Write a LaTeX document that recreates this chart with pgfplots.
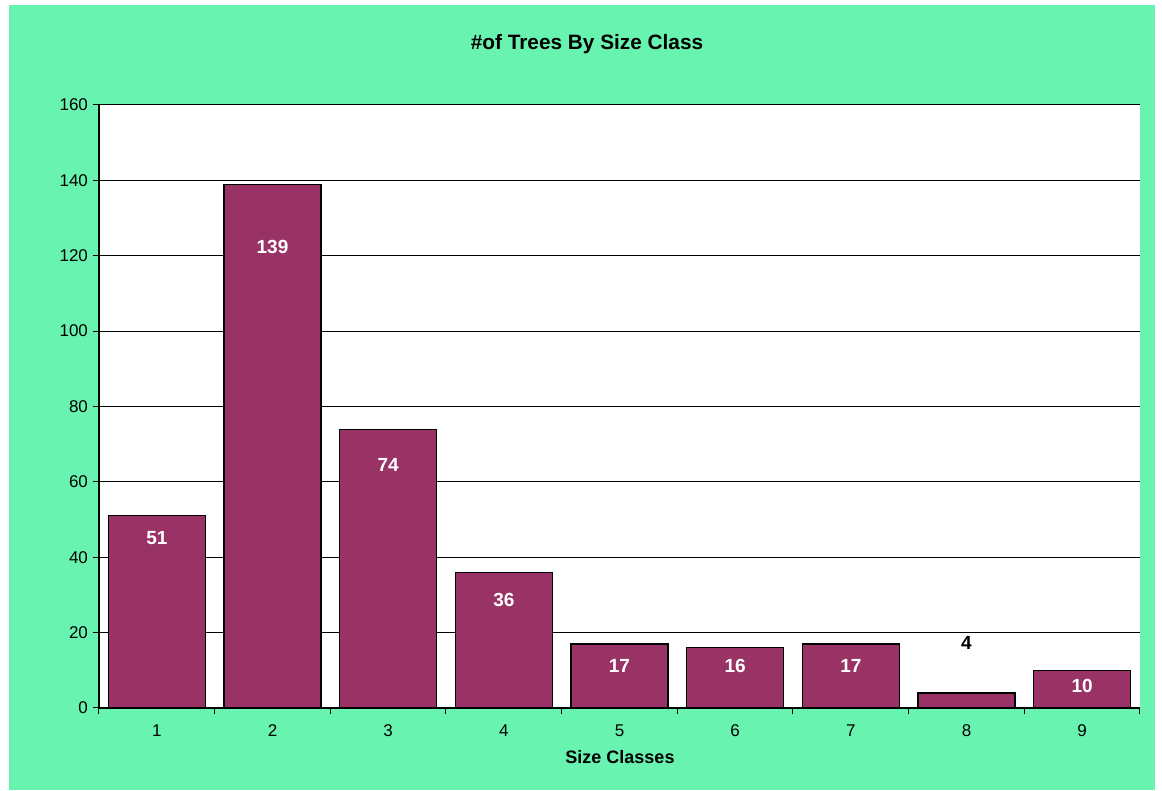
\documentclass[border=0pt]{standalone}
\usepackage{pgfplots}
\pgfplotsset{compat=1.18}
\usepackage{pgfplotstable}
\usepackage{fontspec}
\setmainfont{Liberation Sans}

\definecolor{mint}{RGB}{104,243,176}
\definecolor{plum}{RGB}{153,51,102}

% x, count, height at which the count is written
\pgfplotstableread{
x  n    ly
0  51   45.1
1  139  122.3
2  74   64.5
3  36   28.7
4  17   11.1
5  16   11.1
6  17   11.1
8  10   5.8
}\trees
\pgfplotstableread{
x  n    ly
7  4    17.2
}\small

\begin{document}
\begin{tikzpicture}[x=1pt,y=1pt]
  \useasboundingbox (0,0) rectangle (581,395.5);
  \fill[white] (0,0) rectangle (581,395.5);
  \fill[mint] (4.5,0.5) rectangle (577.5,393);
  \node[font=\fontsize{10.4}{12}\selectfont\bfseries] at (293.5,373.5) {\#of Trees By Size Class};
  \begin{axis}[
    at={(49.5pt,41.5pt)}, anchor=south west,
    scale only axis, width=520.5pt, height=301.5pt,
    xmin=-0.5, xmax=8.5, ymin=0, ymax=160,
    axis background/.style={fill=white},
    axis x line*=bottom, axis y line*=left,
    axis line style={black, line width=0.6pt, -},
    xtick={0,...,8}, xticklabels={1,2,3,4,5,6,7,8,9},
    major x tick style={draw=none},
    minor xtick={-0.5,0.5,...,8.5},
    minor x tick style={black, line width=0.5pt},
    minor tick length=3pt,
    ytick={0,20,...,160},
    ymajorgrids, grid style={black, line width=0.5pt},
    major y tick style={black, line width=0.5pt},
    major tick length=3pt,
    tick align=outside,
    ticklabel style={font=\fontsize{8.5}{10}\selectfont},
    xticklabel style={yshift=-2pt},
    yticklabel style={xshift=1pt},
    /pgf/number format/assume math mode=true,
    clip=false,
  ]
    \addplot[ybar, bar width=48.5pt, fill=plum, draw=black, line width=0.6pt]
      table[x=x, y=n] {\trees};
    \addplot[ybar, bar width=48.5pt, fill=plum, draw=black, line width=0.6pt]
      table[x=x, y=n] {\small};
    \addplot[only marks, mark=none, point meta=explicit,
      nodes near coords, nodes near coords align={center},
      every node near coord/.append style={white, font=\fontsize{9.5}{11}\selectfont\bfseries}]
      table[x=x, y=ly, meta=n] {\trees};
    \addplot[only marks, mark=none, point meta=explicit,
      nodes near coords, nodes near coords align={center},
      every node near coord/.append style={black, font=\fontsize{9.5}{11}\selectfont\bfseries}]
      table[x=x, y=ly, meta=n] {\small};
  \end{axis}
  \node[font=\fontsize{9}{11}\selectfont\bfseries] at (310,17) {Size Classes};
\end{tikzpicture}
\end{document}
